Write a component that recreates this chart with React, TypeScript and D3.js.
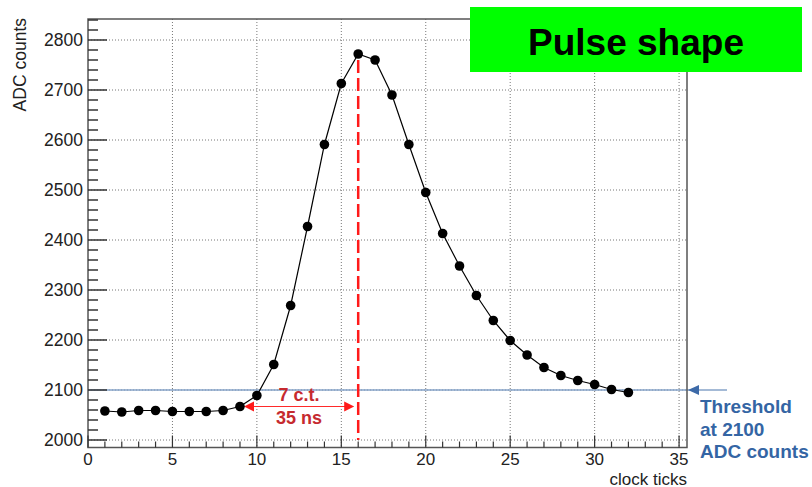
import React, { useEffect, useRef } from "react";
import * as d3 from "d3";

const ticks = [1, 2, 3, 4, 5, 6, 7, 8, 9, 10, 11, 12, 13, 14, 15, 16, 17, 18, 19, 20, 21, 22, 23, 24, 25, 26, 27, 28, 29, 30, 31, 32];
const adc = [2058, 2056, 2059, 2059, 2057, 2057, 2057, 2059, 2067, 2089, 2151, 2269, 2427, 2591, 2713, 2772, 2760, 2690, 2591, 2495, 2413, 2348, 2289, 2239, 2199, 2170, 2145, 2129, 2119, 2111, 2101, 2095];
const xTickLabels = [0, 5, 10, 15, 20, 25, 30, 35];
const yTickLabels = [2000, 2100, 2200, 2300, 2400, 2500, 2600, 2700, 2800];
const threshold = 2100;
const peakTick = 16;
const startTick = 9;
const title = "Pulse shape";
const spanLabels = ["7 c.t.", "35 ns"];
const thresholdLabels = ["Threshold", "at 2100", "ADC counts"];

const FONT = "'Liberation Sans', Arial, Helvetica, sans-serif";

export default function App() {
  const ref = useRef<SVGSVGElement>(null);

  useEffect(() => {
    draw();
  }, []);

  let draw = () => {
    let svg = d3.select(ref.current);
    svg.selectAll("*").remove();

    let left = 88, right = 687, top = 19, bottom = 447.5;

    let x = d3.scaleLinear().domain([0, 35.47]).range([left, right]);
    let y = d3.scaleLinear().domain([1985, 2842]).range([bottom, top]);

    // grid
    svg
      .append("g")
      .selectAll("line")
      .data(xTickLabels.filter((d) => d > 0))
      .enter()
      .append("line")
      .attr("x1", (d) => x(d))
      .attr("x2", (d) => x(d))
      .attr("y1", top)
      .attr("y2", bottom)
      .attr("stroke", "#777")
      .attr("stroke-width", 1)
      .attr("stroke-dasharray", "1,2");

    svg
      .append("g")
      .selectAll("line")
      .data(yTickLabels)
      .enter()
      .append("line")
      .attr("x1", left)
      .attr("x2", right)
      .attr("y1", (d) => y(d))
      .attr("y2", (d) => y(d))
      .attr("stroke", "#777")
      .attr("stroke-width", 1)
      .attr("stroke-dasharray", "1,2");

    // threshold line + arrow
    svg
      .append("line")
      .attr("x1", left)
      .attr("x2", 727)
      .attr("y1", y(threshold))
      .attr("y2", y(threshold))
      .attr("stroke", "#86a3c9")
      .attr("stroke-width", 1.5);

    let ty = y(threshold);
    svg
      .append("path")
      .attr("d", `M688,${ty} L699,${ty - 5} L699,${ty + 5} Z`)
      .attr("fill", "#3d6aa8");

    svg
      .append("g")
      .selectAll("text")
      .data(thresholdLabels)
      .enter()
      .append("text")
      .attr("x", 700)
      .attr("y", (d, i) => 413 + i * 22.5)
      .attr("font-family", FONT)
      .attr("font-weight", "bold")
      .attr("font-size", 19)
      .attr("fill", "#3465a4")
      .text((d) => d);

    // frame
    svg
      .append("rect")
      .attr("x", left)
      .attr("y", top)
      .attr("width", right - left)
      .attr("height", bottom - top)
      .attr("fill", "none")
      .attr("stroke", "#555")
      .attr("stroke-width", 1.5);

    // y ticks
    let yMinor = d3.range(2000, 2841, 20);
    svg
      .append("g")
      .selectAll("line")
      .data(yMinor)
      .enter()
      .append("line")
      .attr("x1", left)
      .attr("x2", (d) => left + (d % 100 === 0 ? 19 : 10))
      .attr("y1", (d) => y(d))
      .attr("y2", (d) => y(d))
      .attr("stroke", "#333")
      .attr("stroke-width", 1.5);

    svg
      .append("g")
      .selectAll("text")
      .data(yTickLabels)
      .enter()
      .append("text")
      .attr("x", 83)
      .attr("y", (d) => y(d))
      .attr("dy", "0.36em")
      .attr("text-anchor", "end")
      .attr("font-family", FONT)
      .attr("font-size", 17.5)
      .attr("fill", "#222")
      .text((d) => d);

    // x ticks
    let xMinor = d3.range(0, 36, 1);
    svg
      .append("g")
      .selectAll("line")
      .data(xMinor)
      .enter()
      .append("line")
      .attr("x1", (d) => x(d))
      .attr("x2", (d) => x(d))
      .attr("y1", bottom)
      .attr("y2", (d) => bottom - (d % 5 === 0 ? 12 : 6))
      .attr("stroke", "#333")
      .attr("stroke-width", 1.2);

    svg
      .append("g")
      .selectAll("text")
      .data(xTickLabels)
      .enter()
      .append("text")
      .attr("x", (d) => x(d))
      .attr("y", 464.5)
      .attr("text-anchor", "middle")
      .attr("font-family", FONT)
      .attr("font-size", 17)
      .attr("fill", "#222")
      .text((d) => d);

    // axis titles
    svg
      .append("text")
      .attr("transform", "translate(26,18) rotate(-90)")
      .attr("text-anchor", "end")
      .attr("font-family", FONT)
      .attr("font-size", 17.5)
      .attr("fill", "#222")
      .text("ADC counts");

    svg
      .append("text")
      .attr("x", right)
      .attr("y", 484.5)
      .attr("text-anchor", "end")
      .attr("font-family", FONT)
      .attr("font-size", 17)
      .attr("fill", "#222")
      .text("clock ticks");

    // peak marker line
    let peak = adc[ticks.indexOf(peakTick)];
    svg
      .append("line")
      .attr("x1", x(peakTick))
      .attr("x2", x(peakTick))
      .attr("y1", y(peak) + 6)
      .attr("y2", y(2000))
      .attr("stroke", "#ff1a1a")
      .attr("stroke-width", 2.5)
      .attr("stroke-dasharray", "13,5");

    // double arrow between start and peak
    let ay = y(adc[ticks.indexOf(startTick)]);
    let ax1 = x(startTick) + 4, ax2 = x(peakTick) - 4;
    svg
      .append("line")
      .attr("x1", ax1 + 8)
      .attr("x2", ax2 - 8)
      .attr("y1", ay)
      .attr("y2", ay)
      .attr("stroke", "#ff2a2a")
      .attr("stroke-width", 1.2);
    svg
      .append("path")
      .attr("d", `M${ax1},${ay} L${ax1 + 10},${ay - 5} L${ax1 + 10},${ay + 5} Z M${ax2},${ay} L${ax2 - 10},${ay - 5} L${ax2 - 10},${ay + 5} Z`)
      .attr("fill", "#ff1a1a");

    svg
      .append("g")
      .selectAll("text")
      .data(spanLabels)
      .enter()
      .append("text")
      .attr("x", (x(startTick) + x(peakTick)) / 2)
      .attr("y", (d, i) => 401 + i * 22.5)
      .attr("text-anchor", "middle")
      .attr("font-family", FONT)
      .attr("font-weight", "bold")
      .attr("font-size", 18)
      .attr("fill", "#c62a2f")
      .text((d) => d);

    // pulse
    let line = d3
      .line<number>()
      .x((d, i) => x(ticks[i]))
      .y((d) => y(d));

    svg
      .append("path")
      .datum(adc)
      .attr("d", line)
      .attr("fill", "none")
      .attr("stroke", "#000")
      .attr("stroke-width", 1.2);

    svg
      .append("g")
      .selectAll("circle")
      .data(adc)
      .enter()
      .append("circle")
      .attr("cx", (d, i) => x(ticks[i]))
      .attr("cy", (d) => y(d))
      .attr("r", 4.8)
      .attr("fill", "#000");

    // title box
    svg
      .append("rect")
      .attr("x", 470)
      .attr("y", 7)
      .attr("width", 332)
      .attr("height", 65)
      .attr("fill", "#00ff00");

    svg
      .append("text")
      .attr("x", 636)
      .attr("y", 55)
      .attr("text-anchor", "middle")
      .attr("font-family", FONT)
      .attr("font-weight", "bold")
      .attr("font-size", 37)
      .attr("fill", "#000")
      .text(title);
  };

  return (
    <svg
      ref={ref}
      width={812}
      height={487}
      style={{ position: "absolute", left: 0, top: 0, background: "#fff" }}
    ></svg>
  );
}
